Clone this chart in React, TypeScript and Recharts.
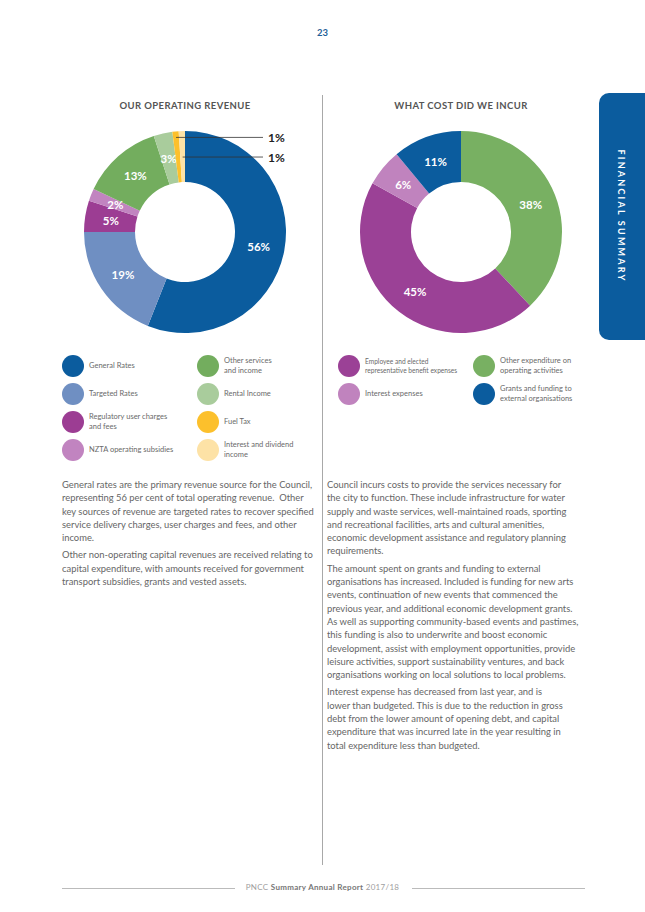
import { PieChart, Pie, Cell } from "recharts";

// revenue donut, clockwise from 12 o'clock
const revenueNames = [
  "General Rates",
  "Targeted Rates",
  "Regulatory user charges and fees",
  "NZTA operating subsidies",
  "Other services and income",
  "Rental Income",
  "Fuel Tax",
  "Interest and dividend income",
];
const revenueValues = [56, 19, 5, 2, 13, 3, 1, 1];
const revenueColors = [
  "#0b5c9e",
  "#6f8fc2",
  "#9c3d93",
  "#c184c0",
  "#73ad5e",
  "#a9cc9c",
  "#fcc02c",
  "#fde2a6",
];
const revenueLegend = [
  ["General Rates"],
  ["Targeted Rates"],
  ["Regulatory user charges", "and fees"],
  ["NZTA operating subsidies"],
  ["Other services", "and income"],
  ["Rental Income"],
  ["Fuel Tax"],
  ["Interest and dividend", "income"],
];

// cost donut, clockwise from 12 o'clock
const costNames = [
  "Other expenditure on operating activities",
  "Employee and elected representative benefit expenses",
  "Interest expenses",
  "Grants and funding to external organisations",
];
const costValues = [38, 45, 6, 11];
const costColors = ["#78b062", "#9b4196", "#c083be", "#0b5c9e"];
const costLegendOrder = [1, 2, 0, 3];
const costLegend = [
  ["Other expenditure on", "operating activities"],
  ["Employee and elected", "representative benefit expenses"],
  ["Interest expenses"],
  ["Grants and funding to", "external organisations"],
];

const leftText = [
  [
    "General rates are the primary revenue source for the Council,",
    "representing 56 per cent of total operating revenue.\u00a0 Other",
    "key sources of revenue are targeted rates to recover specified",
    "service delivery charges, user charges and fees, and other",
    "income.",
  ],
  [
    "Other non-operating capital revenues are received relating to",
    "capital expenditure, with amounts received for government",
    "transport subsidies, grants and vested assets.",
  ],
];
const rightText = [
  [
    "Council incurs costs to provide the services necessary for",
    "the city to function. These include infrastructure for water",
    "supply and waste services, well-maintained roads, sporting",
    "and recreational facilities, arts and cultural amenities,",
    "economic development assistance and regulatory planning",
    "requirements.",
  ],
  [
    "The amount spent on grants and funding to external",
    "organisations has increased. Included is funding for new arts",
    "events, continuation of new events that commenced the",
    "previous year, and additional economic development grants.",
    "As well as supporting community-based events and pastimes,",
    "this funding is also to underwrite and boost economic",
    "development, assist with employment opportunities, provide",
    "leisure activities, support sustainability ventures, and back",
    "organisations working on local solutions to local problems.",
  ],
  [
    "Interest expense has decreased from last year, and is",
    "lower than budgeted. This is due to the reduction in gross",
    "debt from the lower amount of opening debt, and capital",
    "expenditure that was incurred late in the year resulting in",
    "total expenditure less than budgeted.",
  ],
];

const RADIAN = Math.PI / 180;
const BLUE = "#0b5c9e";
const labelFont = "Lato, 'Open Sans', sans-serif";

function sliceLabel(props: any) {
  const { cx, cy, midAngle, value, index } = props;
  if (value <= 1) {
    // tiny slices get a leader line out to the right
    const r = index % 2 === 0 ? 95 : 75;
    const px = cx + r * Math.cos(-midAngle * RADIAN);
    const py = cy + r * Math.sin(-midAngle * RADIAN);
    return (
      <g>
        <line x1={px} y1={py} x2={cx + 78} y2={py} stroke="#333" strokeWidth={0.8} />
        <text
          x={cx + 83}
          y={py}
          dominantBaseline="central"
          fill="#222"
          fontFamily={labelFont}
          fontWeight={700}
          fontSize={12}
        >
          {value}%
        </text>
      </g>
    );
  }
  const r = 75;
  const x = cx + r * Math.cos(-midAngle * RADIAN);
  const y = cy + r * Math.sin(-midAngle * RADIAN);
  return (
    <text
      x={x}
      y={y}
      textAnchor="middle"
      dominantBaseline="central"
      fill="#fff"
      fontFamily={labelFont}
      fontWeight={700}
      fontSize={11.5}
    >
      {value}%
    </text>
  );
}

function Donut({ names, values, colors }: { names: string[]; values: number[]; colors: string[] }) {
  const data = names.map((name, i) => ({ name, value: values[i] }));
  return (
    <PieChart width={240} height={240} margin={{ top: 0, right: 0, bottom: 0, left: 0 }}>
      <Pie
        data={data}
        dataKey="value"
        nameKey="name"
        cx={120}
        cy={120}
        innerRadius={50}
        outerRadius={101}
        startAngle={90}
        endAngle={-270}
        stroke="none"
        label={sliceLabel}
        labelLine={false}
        isAnimationActive={false}
      >
        {data.map((d, i) => (
          <Cell key={d.name} fill={colors[i]} />
        ))}
      </Pie>
    </PieChart>
  );
}

function LegendItem({ x, y, color, lines, size }: { x: number; y: number; color: string; lines: string[]; size: number }) {
  return (
    <>
      <div
        style={{
          position: "absolute",
          left: x - 11,
          top: y - 11,
          width: 22,
          height: 22,
          borderRadius: "50%",
          background: color,
        }}
      />
      <div
        style={{
          position: "absolute",
          left: x + 16,
          top: y - (lines.length * size * 1.3) / 2,
          fontFamily: "Lato, sans-serif",
          fontSize: size,
          lineHeight: 1.3,
          color: "#6a6a6a",
          whiteSpace: "nowrap",
        }}
      >
        {lines.map((l) => (
          <div key={l}>{l}</div>
        ))}
      </div>
    </>
  );
}

function Body({ x, paras }: { x: number; paras: string[][] }) {
  return (
    <div
      style={{
        position: "absolute",
        left: x,
        top: 478,
        fontFamily: "Lato, sans-serif",
        fontSize: 9.4,
        lineHeight: "13.3px",
        color: "#666",
        whiteSpace: "nowrap",
      }}
    >
      {paras.map((p, i) => (
        <div key={i} style={{ marginBottom: 4 }}>
          {p.map((l) => (
            <div key={l}>{l}</div>
          ))}
        </div>
      ))}
    </div>
  );
}

const title: React.CSSProperties = {
  position: "absolute",
  top: 100,
  width: 240,
  textAlign: "center",
  fontFamily: labelFont,
  fontWeight: 700,
  fontSize: 9.5,
  letterSpacing: 0.4,
  color: "#555",
};

export default function App() {
  const rows = [366, 394, 422, 450];
  return (
    <div
      style={{
        position: "absolute",
        left: 0,
        top: 0,
        width: 645,
        height: 912,
        background: "#fff",
        overflow: "hidden",
      }}
    >
      <div
        style={{
          position: "absolute",
          top: 27,
          left: 0,
          width: 645,
          textAlign: "center",
          fontFamily: labelFont,
          fontWeight: 700,
          fontSize: 9.5,
          color: "#1f5f98",
        }}
      >
        23
      </div>

      <div style={{ ...title, left: 65 }}>OUR OPERATING REVENUE</div>
      <div style={{ ...title, left: 341 }}>WHAT COST DID WE INCUR</div>

      <div style={{ position: "absolute", left: 322, top: 95, width: 1, height: 770, background: "#a8a8a8" }} />

      <div style={{ position: "absolute", left: 65, top: 112 }}>
        <Donut names={revenueNames} values={revenueValues} colors={revenueColors} />
      </div>
      <div style={{ position: "absolute", left: 341, top: 112 }}>
        <Donut names={costNames} values={costValues} colors={costColors} />
      </div>

      {revenueLegend.map((lines, i) => (
        <LegendItem
          key={i}
          x={i < 4 ? 73 : 208}
          y={rows[i % 4]}
          color={revenueColors[i]}
          lines={lines}
          size={7.5}
        />
      ))}
      {costLegendOrder.map((idx, k) => (
        <LegendItem
          key={idx}
          x={k < 2 ? 349 : 484}
          y={rows[k % 2]}
          color={costColors[idx]}
          lines={costLegend[idx]}
          size={idx === 1 ? 6.6 : 7.5}
        />
      ))}

      <Body x={62} paras={leftText} />
      <Body x={327} paras={rightText} />

      <div
        style={{
          position: "absolute",
          left: 599,
          top: 93,
          width: 70,
          height: 247,
          borderRadius: 10,
          background: BLUE,
        }}
      />
      <div
        style={{
          position: "absolute",
          left: 621,
          top: 216,
          transform: "translate(-50%, -50%) rotate(90deg)",
          fontFamily: labelFont,
          fontWeight: 700,
          fontSize: 9,
          letterSpacing: 2.2,
          color: "#fff",
          whiteSpace: "nowrap",
        }}
      >
        FINANCIAL SUMMARY
      </div>

      <div style={{ position: "absolute", left: 62, top: 888, width: 173, height: 1, background: "#bbb" }} />
      <div style={{ position: "absolute", left: 412, top: 888, width: 173, height: 1, background: "#bbb" }} />
      <div
        style={{
          position: "absolute",
          top: 882,
          left: 0,
          width: 645,
          textAlign: "center",
          fontFamily: labelFont,
          fontSize: 8,
          letterSpacing: 0.3,
          color: "#a0a0a0",
          whiteSpace: "nowrap",
        }}
      >
        PNCC <b style={{ color: "#777" }}>Summary Annual Report</b> 2017/18
      </div>
    </div>
  );
}
